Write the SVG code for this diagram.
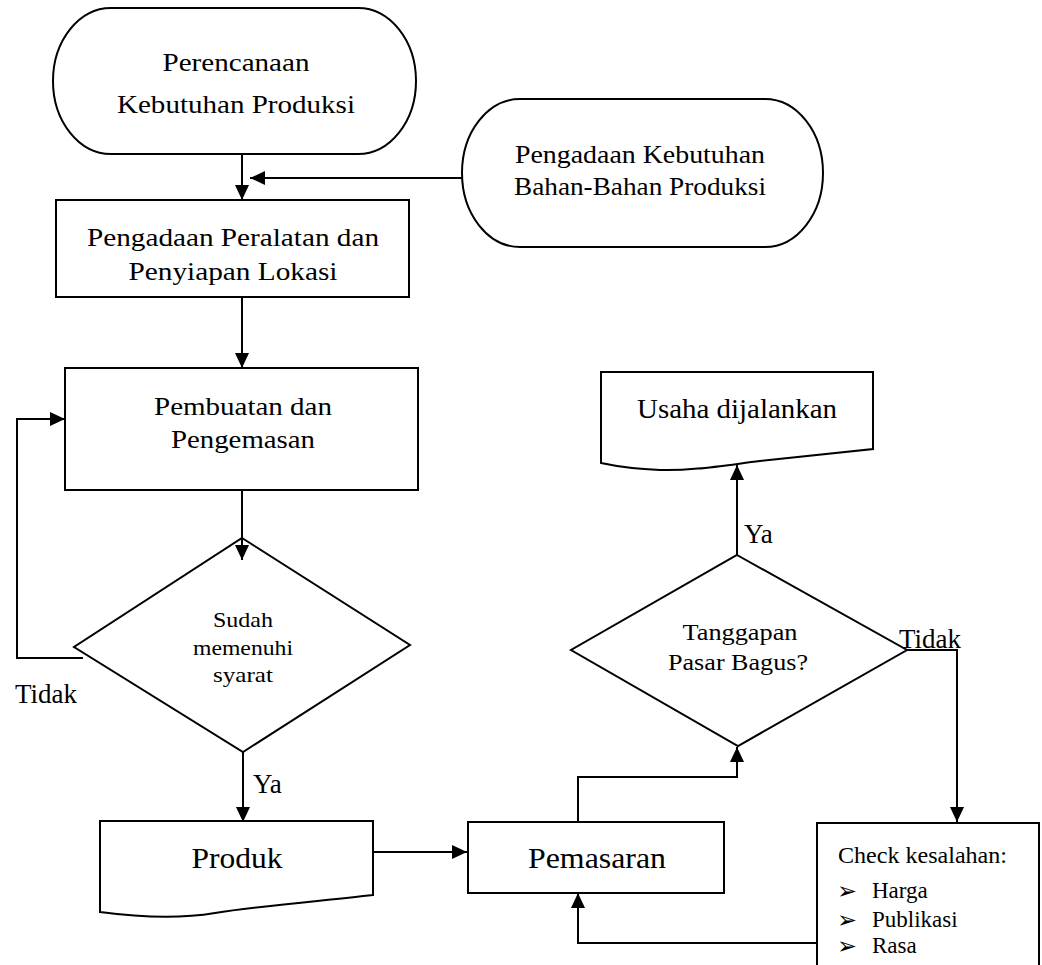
<svg xmlns="http://www.w3.org/2000/svg" width="1042" height="965" viewBox="0 0 1042 965">
<style>
.s{fill:#fff;stroke:#000;stroke-width:2}
.c{fill:none;stroke:#000;stroke-width:2}
text{font-family:"Liberation Serif","Times New Roman",serif;fill:#000}
.t25{font-size:25px;text-anchor:middle}
.t24{font-size:24px;text-anchor:middle}
.t21{font-size:21px;text-anchor:middle}
.t30{font-size:30px;text-anchor:middle}
.lbl{font-size:27px}
.lst{font-size:23px}
.blt{font-family:"DejaVu Sans",sans-serif;font-size:24px}
</style>
<defs>
<marker id="ah" markerUnits="userSpaceOnUse" markerWidth="15" markerHeight="14" refX="15" refY="7" orient="auto">
<path d="M0,0 L15,7 L0,14 Z" fill="#000"/>
</marker>
</defs>
<rect width="1042" height="965" fill="#fff"/>

<g id="n-perencanaan">
<rect class="s" x="53" y="8" width="363" height="146" rx="58" ry="73"/>
<text class="t25" x="236" y="71" textLength="147" lengthAdjust="spacingAndGlyphs">Perencanaan</text>
<text class="t25" x="236" y="113" textLength="238" lengthAdjust="spacingAndGlyphs">Kebutuhan Produksi</text>
</g>

<g id="n-bahan">
<rect class="s" x="462" y="99" width="361" height="148" rx="58" ry="74"/>
<text class="t25" x="640" y="163" textLength="250" lengthAdjust="spacingAndGlyphs">Pengadaan Kebutuhan</text>
<text class="t25" x="640" y="195" textLength="252" lengthAdjust="spacingAndGlyphs">Bahan-Bahan Produksi</text>
</g>

<g id="n-peralatan">
<rect class="s" x="56" y="200" width="353" height="97"/>
<text class="t25" x="233" y="246" textLength="292" lengthAdjust="spacingAndGlyphs">Pengadaan Peralatan dan</text>
<text class="t25" x="233" y="280" textLength="209" lengthAdjust="spacingAndGlyphs">Penyiapan Lokasi</text>
</g>

<g id="n-pembuatan">
<rect class="s" x="65" y="368" width="353" height="122"/>
<text class="t25" x="243" y="415" textLength="178" lengthAdjust="spacingAndGlyphs">Pembuatan dan</text>
<text class="t25" x="243" y="448" textLength="144" lengthAdjust="spacingAndGlyphs">Pengemasan</text>
</g>

<g id="n-syarat">
<polygon class="s" points="242,538 410,645 243,752 74,647"/>
<text class="t21" x="243" y="627" textLength="60" lengthAdjust="spacingAndGlyphs">Sudah</text>
<text class="t21" x="243" y="655" textLength="100" lengthAdjust="spacingAndGlyphs">memenuhi</text>
<text class="t21" x="243" y="682" textLength="60" lengthAdjust="spacingAndGlyphs">syarat</text>
</g>

<g id="n-produk">
<path class="s" d="M100,821 H373 V895 C320,901 260,906 215,913 C185,918 145,918 100,912 Z"/>
<text class="t30" x="237" y="868" textLength="91" lengthAdjust="spacingAndGlyphs">Produk</text>
</g>

<g id="n-pemasaran">
<rect class="s" x="468" y="822" width="256" height="71"/>
<text class="t30" x="597" y="868" textLength="138" lengthAdjust="spacingAndGlyphs">Pemasaran</text>
</g>

<g id="n-tanggapan">
<polygon class="s" points="737,555 907,650 738,746 571,650"/>
<text class="t24" x="740" y="640" textLength="115" lengthAdjust="spacingAndGlyphs">Tanggapan</text>
<text class="t24" x="738" y="670" textLength="140" lengthAdjust="spacingAndGlyphs">Pasar Bagus?</text>
</g>

<g id="n-usaha">
<path class="s" d="M601,372 H873 V449 L760,461 C720,466 690,471 660,470 C635,469 615,466 601,463 Z"/>
<text x="737" y="418" style="font-size:27px;text-anchor:middle" textLength="200" lengthAdjust="spacingAndGlyphs">Usaha dijalankan</text>
</g>

<g id="n-check">
<rect class="s" x="817" y="823" width="222" height="150"/>
<text class="lst" x="838" y="863" textLength="169" lengthAdjust="spacingAndGlyphs">Check kesalahan:</text>
<text class="blt" x="837" y="899" textLength="20" lengthAdjust="spacingAndGlyphs">➢</text>
<text class="lst" x="872" y="898">Harga</text>
<text class="blt" x="837" y="928" textLength="20" lengthAdjust="spacingAndGlyphs">➢</text>
<text class="lst" x="872" y="927">Publikasi</text>
<text class="blt" x="837" y="954" textLength="20" lengthAdjust="spacingAndGlyphs">➢</text>
<text class="lst" x="872" y="953">Rasa</text>
</g>

<g id="connectors">
<path class="c" d="M242,154 V200" marker-end="url(#ah)"/>
<path class="c" d="M462,178 H250" marker-end="url(#ah)"/>
<path class="c" d="M242,297 V368" marker-end="url(#ah)"/>
<path class="c" d="M242,490 V560" marker-end="url(#ah)"/>
<path class="c" d="M83,658 H17 V419 H65" marker-end="url(#ah)"/>
<path class="c" d="M243,752 V822" marker-end="url(#ah)"/>
<path class="c" d="M373,852 H467" marker-end="url(#ah)"/>
<path class="c" d="M578,822 V777 H737 V747" marker-end="url(#ah)"/>
<path class="c" d="M737,555 V465" marker-end="url(#ah)"/>
<path class="c" d="M907,650 H957 V822" marker-end="url(#ah)"/>
<path class="c" d="M817,943 H578 V893" marker-end="url(#ah)"/>
<text class="lbl" x="15" y="703">Tidak</text>
<text class="lbl" x="253" y="793">Ya</text>
<text class="lbl" x="744" y="543">Ya</text>
<text class="lbl" x="899" y="648">Tidak</text>
</g>
</svg>
